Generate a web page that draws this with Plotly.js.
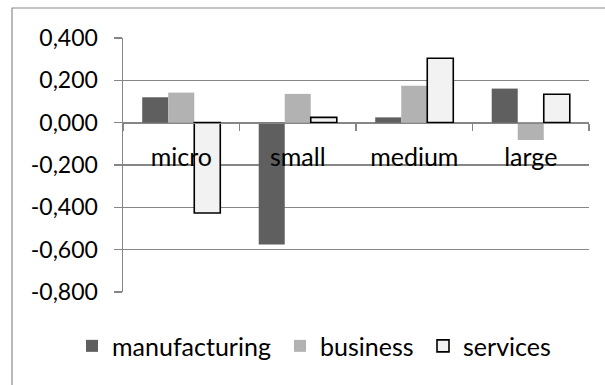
<!DOCTYPE html>
<html>
<head>
<meta charset="utf-8">
<script src="https://cdn.plot.ly/plotly-3.0.1.min.js"></script>
<style>
  html, body { margin: 0; padding: 0; background: #fff; }
  #chart { width: 605px; height: 385px; }
</style>
</head>
<body>
<div id="chart"></div>
<script>
// Firm size classes along the category axis
const categories = ["micro", "small", "medium", "large"];

// Values per sector
const manufacturing = [0.120, -0.576, 0.025, 0.161];
const business = [0.142, 0.136, 0.175, -0.082];
const services = [-0.427, 0.025, 0.304, 0.134];

// Value axis ticks (comma decimals)
const yTickVals = [0.4, 0.2, 0.0, -0.2, -0.4, -0.6, -0.8];
const yTickText = ["0,400", "0,200", "0,000", "-0,200", "-0,400", "-0,600", "-0,800"];

const FONT = "Lato, 'Open Sans', sans-serif";
const GRID = "#868686";

const traces = [
  {
    type: "bar", name: "manufacturing", x: categories, y: manufacturing,
    marker: { color: "#5f5f5f", line: { width: 0 } },
    legend: "legend"
  },
  {
    type: "bar", name: "business", x: categories, y: business,
    marker: { color: "#b2b2b2", line: { width: 0 } },
    legend: "legend2"
  },
  {
    type: "bar", name: "services", x: categories, y: services,
    marker: { color: "#f2f2f2", line: { color: "#000", width: 1.6 } },
    legend: "legend3"
  }
];

const yMin = -0.8, yMax = 0.4;

const legendBase = {
  orientation: "h", yanchor: "middle", xanchor: "left", y: -0.213,
  bgcolor: "rgba(0,0,0,0)", borderwidth: 0,
  font: { family: FONT, size: 25, color: "#000" }
};

const layout = {
  width: 605, height: 385,
  margin: { l: 123, r: 16, t: 38, b: 93, pad: 0 },
  paper_bgcolor: "#fff", plot_bgcolor: "#fff",
  barmode: "group", bargap: 0.33, bargroupgap: 0,
  font: { family: FONT, size: 23, color: "#000" },
  showlegend: true,
  xaxis: {
    type: "category",
    anchor: "free",
    position: (0 - yMin) / (yMax - yMin),
    showline: true, linecolor: GRID, linewidth: 1.5,
    showgrid: false, zeroline: false,
    ticks: "outside", tickson: "boundaries", ticklen: 7, tickwidth: 1.5, tickcolor: GRID,
    tickfont: { family: FONT, size: 25, color: "#000" },
    ticklabelstandoff: 12
  },
  yaxis: {
    range: [yMin, yMax],
    domain: [0, 1],
    tickvals: yTickVals, ticktext: yTickText,
    showgrid: true, gridcolor: GRID, gridwidth: 1.5,
    zeroline: true, zerolinecolor: GRID, zerolinewidth: 1.5,
    showline: true, linecolor: GRID, linewidth: 1.5,
    ticks: "outside", ticklen: 8, tickwidth: 1.5, tickcolor: GRID,
    tickfont: { family: FONT, size: 23, color: "#000" },
    ticklabelstandoff: 11
  },
  legend: Object.assign({}, legendBase, { x: (72 - 123) / 466 }),
  legend2: Object.assign({}, legendBase, { x: (280 - 123) / 466 }),
  legend3: Object.assign({}, legendBase, { x: (423 - 123) / 466 }),
  shapes: [
    {
      type: "rect", xref: "paper", yref: "paper",
      x0: (12 - 123) / 466, x1: (640 - 123) / 466,
      y0: (292 - 420) / 254, y1: 1 + (38 - 8) / 254,
      line: { color: "#8a8a8a", width: 1.2 }, fillcolor: "rgba(0,0,0,0)",
      layer: "below"
    }
  ]
};

Plotly.newPlot("chart", traces, layout, { displayModeBar: false, staticPlot: true });
</script>
</body>
</html>
